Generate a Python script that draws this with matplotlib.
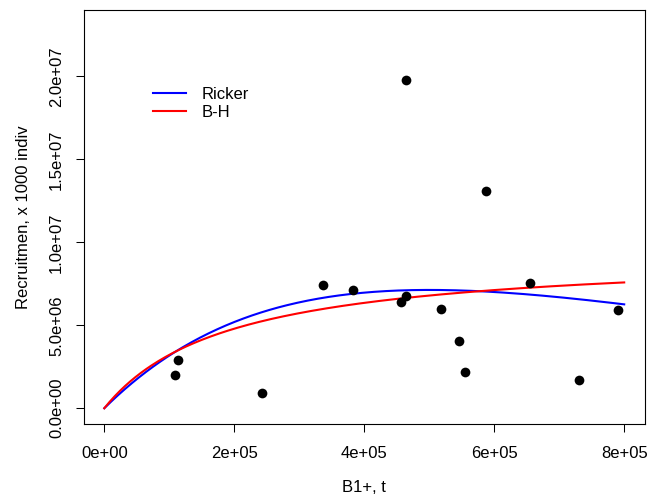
import numpy as np
import matplotlib
matplotlib.use("Agg")
import matplotlib.pyplot as plt
from matplotlib.lines import Line2D

# spawning biomass (t) and recruitment (x 1000 indiv)
ssb = [1.09e5, 1.13e5, 2.43e5, 3.36e5, 3.82e5, 4.57e5, 4.64e5, 4.65e5,
       5.18e5, 5.46e5, 5.55e5, 5.87e5, 6.55e5, 7.31e5, 7.90e5]
rec = [1.99e6, 2.90e6, 0.93e6, 7.42e6, 7.14e6, 6.43e6, 6.78e6, 19.77e6,
       5.99e6, 4.05e6, 2.18e6, 13.08e6, 7.54e6, 1.68e6, 5.93e6]

# fitted stock-recruitment parameters
ricker_a, ricker_b = 38.76, 2.0e-6
bh_a, bh_b = 48.9, 5.2e-6
s_max = 8.0e5

x_ticks = [0, 2e5, 4e5, 6e5, 8e5]
x_labels = ["0e+00", "2e+05", "4e+05", "6e+05", "8e+05"]
y_ticks = [0, 5e6, 1e7, 1.5e7, 2e7]
y_labels = ["0.0e+00", "5.0e+06", "1.0e+07", "1.5e+07", "2.0e+07"]

plt.rcParams["font.family"] = ["Liberation Sans", "DejaVu Sans"]
plt.rcParams["font.size"] = 12

fig = plt.figure(figsize=(6.5, 4.95), dpi=100)
ax = fig.add_axes([83.5 / 650, 1 - 424 / 495, (645 - 83.5) / 650, (424 - 10) / 495])

s = np.linspace(0, s_max, 300)
ricker = ricker_a * s * np.exp(-ricker_b * s)
bh = bh_a * s / (1 + bh_b * s)

ax.plot(s, ricker, color="#0000FF", lw=1.5)
ax.plot(s, bh, color="#FF0000", lw=1.5)
ax.plot(ssb, rec, "o", color="black", ms=7, mew=0)

ax.set_xlim(-0.04 * s_max, 1.04 * s_max)
ax.set_ylim(-0.95e6, 24.0e6)

ax.set_xticks(x_ticks)
ax.set_xticklabels(x_labels)
ax.set_yticks(y_ticks)
ax.set_yticklabels(y_labels, rotation=90, va="center")
ax.tick_params(axis="x", length=6, width=0.75, pad=9.5)
ax.tick_params(axis="y", length=5.5, width=0.75, pad=8.5)
for sp in ax.spines.values():
    sp.set_linewidth(0.8)

ax.set_xlabel("B1+, t")
ax.set_ylabel("Recruitmen, x 1000 indiv")
ax.xaxis.set_label_coords(0.5, (424 - 480) / 414)
ax.yaxis.set_label_coords((31 - 83.5) / 561.5, 0.5)

handles = [Line2D([], [], color="#0000FF", lw=1.5),
           Line2D([], [], color="#FF0000", lw=1.5)]
ax.legend(handles, ["Ricker", "B-H"], loc="upper left",
          bbox_to_anchor=(152.7 / 650, 1 - 87 / 495),
          bbox_transform=fig.transFigure, frameon=False,
          borderpad=0, borderaxespad=0, handlelength=2.0,
          handletextpad=0.95, labelspacing=0.17)

fig.savefig("out.png", dpi=100)
plt.close(fig)
